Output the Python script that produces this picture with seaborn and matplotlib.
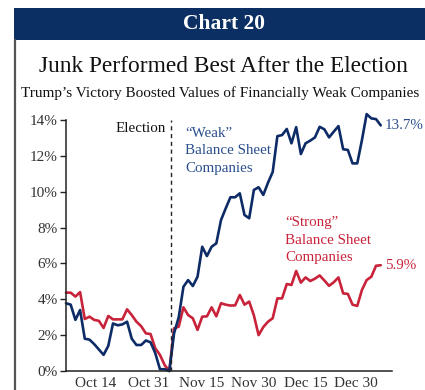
import numpy as np
import pandas as pd
import matplotlib
matplotlib.use("Agg")
import matplotlib.pyplot as plt
from matplotlib.patches import Rectangle
from matplotlib.lines import Line2D
import seaborn as sns

# Cumulative performance (%) per trading session, early Oct 2016 to early Jan 2017
weak = [3.78, 3.70, 2.85, 3.40, 1.80, 1.75, 1.50, 1.20, 0.90, 1.40,
        2.65, 2.55, 2.60, 2.75, 1.80, 1.45, 1.45, 1.70, 1.60, 1.00,
        0.10, 0.10, 0.00, 2.10, 3.00, 4.70, 5.07, 4.74, 5.26, 6.93,
        6.41, 6.93, 7.12, 8.42, 9.07, 9.69, 9.69, 9.91, 8.70, 8.52,
        10.10, 10.25, 9.82, 10.50, 11.10, 13.10, 13.16, 13.50, 12.70, 13.60,
        12.10, 12.70, 12.85, 13.03, 13.62, 13.48, 13.03, 13.35, 13.66, 12.37,
        12.33, 11.58, 11.58, 12.88, 14.33, 14.09, 14.05, 13.70]
strong = [4.37, 4.37, 4.15, 4.40, 2.90, 3.03, 2.85, 2.80, 2.40, 3.07,
          2.88, 2.88, 2.88, 3.44, 3.12, 2.75, 2.50, 2.10, 2.06, 1.27,
          0.90, 0.33, 0.00, 2.38, 2.47, 3.55, 3.12, 2.94, 2.29, 3.03,
          3.05, 3.55, 3.05, 3.78, 3.70, 3.65, 3.66, 4.24, 3.70, 3.87,
          3.10, 2.00, 2.45, 2.75, 2.94, 4.05, 4.05, 4.85, 4.80, 5.58,
          4.93, 5.22, 5.02, 5.15, 5.33, 5.05, 4.75, 4.95, 5.22, 4.33,
          4.30, 3.70, 3.63, 4.52, 5.07, 5.26, 5.87, 5.90]
date_labels = ["Oct 14", "Oct 31", "Nov 15", "Nov 30", "Dec 15", "Dec 30"]
date_pos = [6.4, 17.5, 28.9, 39.9, 51.0, 61.7]
election_pos = 22.4
y_ticks = [0, 2, 4, 6, 8, 10, 12, 14]

df = pd.DataFrame({"session": np.arange(len(weak)), "weak": weak, "strong": strong})

NAVY = "#0b2f62"
BLUE = "#0d2b66"
BLUE_TXT = "#2b4f8c"
RED = "#c8233a"
INK = "#222222"

sns.set_style("ticks")
plt.rcParams["font.family"] = ["Liberation Serif", "DejaVu Serif"]

W, H = 425, 390
fig = plt.figure(figsize=(W / 100, H / 100), dpi=100)
fig.patch.set_facecolor("white")

def fx(px):
    return px / W

def fy(py):
    return 1 - py / H

# Header band and left frame rule
fig.add_artist(Rectangle((fx(14), fy(40)), fx(W - 14), 32 / H, transform=fig.transFigure,
                         facecolor=NAVY, edgecolor="none"))
fig.add_artist(Line2D([fx(14.5), fx(14.5)], [fy(40), 0], transform=fig.transFigure,
                      color="#555555", lw=1.6))
fig.text(fx(224), fy(24), "Chart 20", color="white", fontsize=15.5, fontweight="bold",
         ha="center", va="center")
fig.text(fx(223), fy(66), "Junk Performed Best After the Election", color="#111111",
         fontsize=16.8, ha="center", va="center")
fig.text(fx(21), fy(93), "Trump\u2019s Victory Boosted Values of Financially Weak Companies",
         color="#111111", fontsize=11.0, ha="left", va="center")

ax = fig.add_axes([fx(66), fy(371), fx(392 - 66), (371 - 120) / H])
ax.set_facecolor("white")

sns.lineplot(data=df, x="session", y="strong", color=RED, lw=1.9, ax=ax, clip_on=False)
sns.lineplot(data=df, x="session", y="weak", color=BLUE, lw=1.9, ax=ax, clip_on=False)

ax.axvline(election_pos, color=INK, lw=1.0, ls=(0, (3, 2.6)))

ax.set_xlim(0, 69.4)
ax.set_ylim(0, 14)
ax.set_yticks(y_ticks)
ax.set_yticklabels([f"{v}%" for v in y_ticks])
ax.set_xticks(date_pos)
ax.set_xticklabels(date_labels)
ax.set_xlabel("")
ax.set_ylabel("")
ax.tick_params(axis="y", length=4, width=1, color=INK, labelsize=11, labelcolor="#333333", pad=2)
ax.tick_params(axis="x", length=0, labelsize=11, labelcolor="#333333", pad=4)
for s in ["top", "right"]:
    ax.spines[s].set_visible(False)
for s in ["left", "bottom"]:
    ax.spines[s].set_color(INK)
    ax.spines[s].set_linewidth(1.1)

ax.annotate("Election", xy=(election_pos, 13.55), xytext=(-4, 0), textcoords="offset points",
            ha="right", va="center", fontsize=10.8, color="#111111")

fig.text(fx(185), fy(151), "\u201cWeak\u201d\nBalance Sheet\nCompanies", color=BLUE_TXT,
         fontsize=10.8, ha="left", va="center", linespacing=1.42)
fig.text(fx(285), fy(240), "\u201cStrong\u201d\nBalance Sheet\nCompanies", color=RED,
         fontsize=10.8, ha="left", va="center", linespacing=1.42)

last = len(weak) - 1
ax.annotate(f"{weak[-1]:.1f}%", xy=(last, weak[-1]), xytext=(3, 0), textcoords="offset points",
            ha="left", va="center", fontsize=10.8, color=BLUE_TXT, annotation_clip=False)
ax.annotate(f"{strong[-1]:.1f}%", xy=(last, strong[-1]), xytext=(3, 0), textcoords="offset points",
            ha="left", va="center", fontsize=10.8, color=RED, annotation_clip=False)

fig.savefig("out.png", dpi=100, facecolor="white")
